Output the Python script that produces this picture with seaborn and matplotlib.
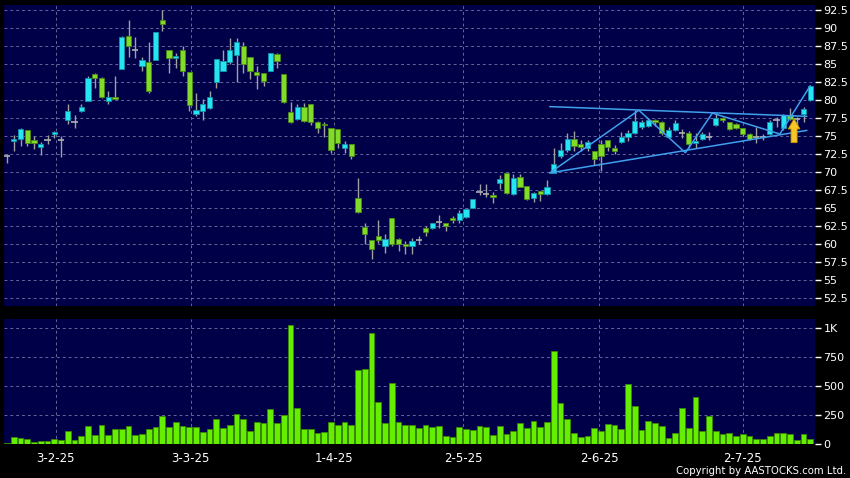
import numpy as np
import pandas as pd
import seaborn as sns
import matplotlib.pyplot as plt

# daily OHLC, one entry per trading day
opens = [72.2, 74.3, 74.6, 75.8, 74.5, 73.5, 74.4, 75.3, 74.4, 77.2,
         77.0, 78.5, 79.9, 83.6, 83.1, 79.9, 80.4, 84.35, 88.85, 87.0,
         84.7, 85.3, 85.6, 91.1, 86.9, 85.8, 87.0, 83.9, 78.1, 78.5,
         78.9, 82.5, 84.1, 85.3, 86.3, 87.5, 86.0, 83.9, 83.7, 84.0,
         86.4, 83.6, 78.4, 77.4, 79.0, 79.4, 77.0, 76.7, 76.1, 75.95,
         73.4, 73.9, 66.4, 62.36, 60.55, 61.1, 59.7, 63.6, 60.75, 60.1,
         59.7, 60.65, 62.2, 62.2, 63.05, 62.96, 63.6, 63.4, 63.75, 65.0,
         67.2, 66.95, 66.8, 68.47, 69.86, 67.0, 69.3, 68.05, 66.39, 67.36,
         66.94, 69.95, 72.3, 73.1, 74.6, 73.9, 73.4, 72.9, 73.9, 74.4,
         73.4, 74.2, 74.95, 75.4, 76.3, 76.4, 77.3, 77.0, 74.95, 75.8,
         75.4, 75.4, 74.0, 74.6, 74.95, 76.5, 77.5, 76.9, 76.7, 76.1,
         75.3, 74.95, 74.9, 75.3, 77.27, 76.2, 77.87, 77.4, 78.05, 79.95]
highs = [72.5, 75.1, 76.1, 75.9, 75.0, 74.2, 75.1, 75.7, 75.0, 79.4,
         77.95, 79.45, 83.3, 83.7, 83.2, 81.2, 83.3, 88.9, 91.1, 88.75,
         86.05, 88.0, 89.5, 92.5, 87.0, 86.5, 87.5, 83.9, 80.95, 80.2,
         81.3, 85.75, 86.9, 88.6, 88.6, 88.1, 86.0, 84.7, 83.7, 86.6,
         86.5, 83.6, 79.8, 79.4, 79.6, 79.5, 77.1, 77.0, 76.1, 76.0,
         74.3, 73.9, 69.2, 62.9, 60.6, 63.4, 61.4, 63.6, 60.8, 60.4,
         60.8, 61.15, 62.6, 63.0, 64.1, 63.0, 63.9, 64.7, 64.9, 66.3,
         68.4, 68.4, 67.2, 69.6, 69.9, 69.8, 69.8, 68.1, 67.2, 67.4,
         68.93, 73.3, 74.0, 75.4, 75.7, 74.4, 74.5, 72.9, 74.5, 74.4,
         73.8, 75.6, 75.9, 78.6, 77.3, 77.5, 77.4, 77.1, 76.3, 77.3,
         76.0, 75.7, 75.4, 75.6, 75.6, 78.2, 77.6, 77.0, 76.8, 76.2,
         75.4, 76.3, 75.3, 77.3, 77.7, 78.1, 78.9, 77.7, 79.1, 82.0]
lows = [71.3, 73.0, 73.7, 73.7, 73.2, 72.4, 73.9, 74.7, 72.1, 76.7,
        76.2, 78.4, 79.9, 81.7, 80.3, 79.5, 80.1, 84.3, 86.0, 85.9,
        84.1, 81.05, 85.5, 89.6, 83.8, 84.5, 83.3, 78.5, 77.8, 77.3,
        78.8, 81.7, 84.0, 85.0, 82.5, 83.75, 83.0, 81.5, 82.0, 84.0,
        84.5, 79.6, 76.8, 77.3, 77.0, 76.5, 75.5, 74.9, 72.7, 73.4,
        72.7, 71.8, 64.4, 60.1, 58.0, 60.2, 58.8, 59.7, 59.1, 58.6,
        58.7, 60.0, 61.2, 62.1, 62.2, 61.9, 63.0, 62.9, 63.7, 65.0,
        66.8, 66.5, 65.7, 67.6, 67.0, 66.9, 68.0, 66.15, 65.9, 66.0,
        66.9, 69.9, 72.0, 72.8, 73.0, 72.9, 72.9, 71.0, 70.1, 73.0,
        72.5, 74.1, 74.3, 75.3, 76.0, 76.3, 76.4, 75.2, 74.8, 75.7,
        74.7, 73.3, 73.3, 74.4, 74.5, 76.4, 76.9, 75.8, 76.0, 75.0,
        74.4, 74.0, 74.5, 75.2, 76.3, 75.8, 77.3, 76.3, 77.0, 79.9]
closes = [72.2, 74.6, 76.0, 74.0, 74.0, 73.95, 74.4, 75.6, 74.4, 78.45,
          77.0, 79.0, 83.1, 83.1, 80.4, 80.4, 80.2, 88.75, 87.45, 87.0,
          85.55, 81.2, 89.5, 90.5, 85.8, 86.1, 84.0, 79.3, 78.6, 79.4,
          80.4, 85.75, 85.4, 86.9, 88.1, 85.0, 84.0, 83.5, 82.6, 86.5,
          85.45, 79.8, 77.0, 79.0, 77.1, 77.0, 76.2, 76.5, 73.1, 74.0,
          73.9, 72.2, 64.45, 61.39, 59.4, 60.6, 60.7, 60.1, 60.1, 59.7,
          60.5, 60.65, 61.75, 62.9, 63.05, 62.6, 63.3, 64.4, 64.86, 66.25,
          67.2, 66.95, 66.5, 69.07, 67.08, 69.16, 68.0, 66.34, 67.17, 66.94,
          68.0, 71.1, 73.1, 74.6, 73.65, 73.5, 74.2, 71.8, 72.2, 73.5,
          73.0, 74.95, 75.4, 77.1, 76.9, 77.3, 76.9, 75.5, 75.9, 76.8,
          75.4, 73.9, 74.35, 75.3, 74.95, 77.5, 77.2, 76.0, 76.2, 75.3,
          74.6, 74.95, 74.9, 76.94, 77.27, 77.9, 77.4, 77.4, 78.8, 82.0]
# daily turnover volume (K)
volume = [8, 55, 46, 43, 12, 26, 26, 38, 29, 110,
          29, 61, 154, 72, 162, 75, 122, 125, 148, 72,
          81, 125, 139, 238, 142, 186, 151, 142, 142, 99,
          125, 212, 136, 159, 255, 209, 107, 183, 180, 296,
          180, 246, 1026, 307, 122, 130, 90, 96, 183, 159,
          188, 162, 638, 644, 957, 357, 177, 522, 183, 162,
          162, 133, 157, 139, 148, 67, 55, 145, 130, 116,
          154, 145, 75, 154, 81, 107, 174, 136, 197, 142,
          183, 806, 351, 212, 87, 55, 64, 136, 107, 171,
          157, 128, 516, 325, 116, 194, 177, 154, 46, 87,
          304, 136, 400, 107, 238, 110, 81, 87, 64, 81,
          64, 35, 43, 64, 87, 87, 84, 29, 84, 35]

tick_pos = [7.2, 27.2, 48.4, 67.6, 87.7, 109.0]
tick_labels = ['3-2-25', '3-3-25', '1-4-25', '2-5-25', '2-6-25', '2-7-25']
price_ticks = [52.5, 55, 57.5, 60, 62.5, 65, 67.5, 70, 72.5, 75, 77.5,
               80, 82.5, 85, 87.5, 90, 92.5]
vol_ticks = [0, 250, 500, 750, 1000]
vol_labels = ['0', '250', '500', '750', '1K']

# drawn pattern (triangle + zigzag)
upper_x = [80.4, 118.5]
upper_y = [79.1, 77.75]
lower_x = [80.4, 118.5]
lower_y = [69.9, 75.8]
zigzag_x = [80.4, 93.6, 100.5, 104.5, 114.5, 119]
zigzag_y = [69.9, 78.6, 72.7, 78.2, 75.3, 82.0]

df = pd.DataFrame({'open': opens, 'high': highs, 'low': lows,
                   'close': closes, 'vol': volume})
df['day'] = np.arange(len(df))

NAVY = '#000048'
CYAN = '#26E4F2'
GREEN = '#80DC28'
GRID = '#66669A'

sns.set_style('dark')
plt.rcParams['font.family'] = 'DejaVu Sans'

fig = plt.figure(figsize=(8.5, 4.78), dpi=100, facecolor='black')
ax = fig.add_axes([4 / 850, 1 - 306 / 478, 811 / 850, 301 / 478])
axv = fig.add_axes([4 / 850, 1 - 443.5 / 478, 811 / 850, 124.5 / 478])

# candles
up = df[df.close > df.open]
dn = df[df.close < df.open]
flat = df[df.close == df.open]
ax.vlines(df.day, df.low, df.high, color='#A0A0A0', lw=1, zorder=2)
ax.bar(up.day, up.close - up.open, bottom=up.open, width=0.8,
       color=CYAN, edgecolor='#1294A6', lw=0.6, zorder=3)
ax.bar(dn.day, dn.open - dn.close, bottom=dn.close, width=0.8,
       color=GREEN, edgecolor='#4C8A14', lw=0.6, zorder=3)
ax.hlines(flat.close, flat.day - 0.45, flat.day + 0.45, color='#B0B0B0',
          lw=1.2, zorder=3)

# pattern lines
for xs, ys in [(upper_x, upper_y), (lower_x, lower_y), (zigzag_x, zigzag_y)]:
    ax.plot(xs, ys, color='#3FA0EC', lw=1.1, zorder=4)

ax.arrow(116.6, 74.1, 0, 3.3, width=0.9, head_width=1.75, head_length=1.4,
         length_includes_head=True, color='#F6C526', ec='#C99200', lw=0.6,
         zorder=5)

ax.set_xlim(-0.45, 119.7)
ax.set_ylim(51.43, 93.2)
ax.set_yticks(price_ticks)
ax.set_yticklabels(['{:g}'.format(v) for v in price_ticks])
ax.set_xticks(tick_pos)
ax.set_xticklabels([])

# volume
sns.barplot(x=df.day, y=df.vol, native_scale=True, color='#66EE00',
            saturation=1, edgecolor='#3A8A00', linewidth=0.6, width=0.85,
            errorbar=None, ax=axv, zorder=3)
axv.set_xlim(-0.45, 119.7)
axv.set_ylim(0, 1081)
axv.set_yticks(vol_ticks)
axv.set_yticklabels(vol_labels)
axv.set_xticks(tick_pos)
axv.set_xticklabels(tick_labels)
axv.set_xlabel('')
axv.set_ylabel('')

for a in (ax, axv):
    a.set_facecolor(NAVY)
    for s in a.spines.values():
        s.set_visible(False)
    a.grid(True, color=GRID, ls=(0, (3, 3)), lw=0.7)
    a.set_axisbelow(True)
    a.yaxis.tick_right()
    a.tick_params(axis='y', colors='white', labelsize=8, length=4, width=1,
                  pad=2, labelcolor='white')
ax.tick_params(axis='x', length=0)
axv.tick_params(axis='x', colors='#A0A0A0', length=3, width=1, pad=3,
                labelsize=8.5, labelcolor='white')

fig.text(0.995, 6.5 / 478, 'Copyright by AASTOCKS.com Ltd.', ha='right',
         va='center', fontsize=7.3, color='white')

fig.savefig('out.png', dpi=100, facecolor='black')
